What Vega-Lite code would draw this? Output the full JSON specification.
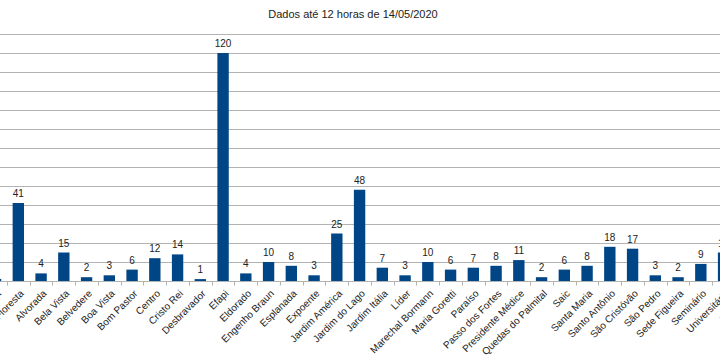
{
  "$schema": "https://vega.github.io/schema/vega-lite/v6.json",
  "width": 720,
  "height": 247,
  "autosize": {"type": "none"},
  "padding": {"left": 0, "top": 34, "right": 0, "bottom": 82},
  "background": "white",
  "title": {
    "text": "Dados até 12 horas de 14/05/2020",
    "font": "Liberation Sans",
    "fontSize": 11,
    "fontWeight": "normal",
    "color": "#222222",
    "anchor": "middle",
    "frame": "group",
    "dx": -7,
    "offset": 14
  },
  "data": {
    "values": [
      {"bairro": "Água Santa", "casos": 1},
      {"bairro": "Alta Floresta", "casos": 41},
      {"bairro": "Alvorada", "casos": 4},
      {"bairro": "Bela Vista", "casos": 15},
      {"bairro": "Belvedere", "casos": 2},
      {"bairro": "Boa Vista", "casos": 3},
      {"bairro": "Bom Pastor", "casos": 6},
      {"bairro": "Centro", "casos": 12},
      {"bairro": "Cristo Rei", "casos": 14},
      {"bairro": "Desbravador", "casos": 1},
      {"bairro": "Efapi", "casos": 120},
      {"bairro": "Eldorado", "casos": 4},
      {"bairro": "Engenho Braun", "casos": 10},
      {"bairro": "Esplanada", "casos": 8},
      {"bairro": "Expoente", "casos": 3},
      {"bairro": "Jardim América", "casos": 25},
      {"bairro": "Jardim do Lago", "casos": 48},
      {"bairro": "Jardim Itália", "casos": 7},
      {"bairro": "Líder", "casos": 3},
      {"bairro": "Marechal Bormann", "casos": 10},
      {"bairro": "Maria Goretti", "casos": 6},
      {"bairro": "Paraíso", "casos": 7},
      {"bairro": "Passo dos Fortes", "casos": 8},
      {"bairro": "Presidente Médice", "casos": 11},
      {"bairro": "Quedas do Palmital", "casos": 2},
      {"bairro": "Saic", "casos": 6},
      {"bairro": "Santa Maria", "casos": 8},
      {"bairro": "Santo Antônio", "casos": 18},
      {"bairro": "São Cristóvão", "casos": 17},
      {"bairro": "São Pedro", "casos": 3},
      {"bairro": "Sede Figueira", "casos": 2},
      {"bairro": "Seminário", "casos": 9},
      {"bairro": "Universitário", "casos": 15},
      {"bairro": "Vila Real", "casos": 5}
    ]
  },
  "encoding": {
    "x": {
      "field": "bairro",
      "type": "nominal",
      "sort": null,
      "scale": {"range": [-15.8, 757.7], "paddingInner": 0, "paddingOuter": 0},
      "axis": {
        "title": null,
        "labelAngle": -45,
        "labelFont": "Liberation Sans",
        "labelFontSize": 10,
        "labelColor": "#222222",
        "labelOverlap": false,
        "labelBound": false,
        "labelPadding": 3,
        "tickBand": "extent",
        "tickSize": 4,
        "tickColor": "#b3b3b3",
        "domainColor": "#b3b3b3",
        "grid": false
      }
    },
    "y": {
      "field": "casos",
      "type": "quantitative",
      "scale": {"domain": [0, 130], "nice": false},
      "axis": {
        "title": null,
        "labels": false,
        "ticks": false,
        "domain": false,
        "values": [0, 10, 20, 30, 40, 50, 60, 70, 80, 90, 100, 110, 120, 130],
        "grid": true,
        "gridColor": "#b3b3b3",
        "gridWidth": 1
      }
    }
  },
  "layer": [
    {
      "mark": {"type": "bar", "color": "#004586", "width": {"band": 0.5}}
    },
    {
      "mark": {
        "type": "text",
        "baseline": "alphabetic",
        "dy": -6,
        "font": "Liberation Sans",
        "fontSize": 10,
        "color": "#222222"
      },
      "encoding": {"text": {"field": "casos", "type": "quantitative"}}
    }
  ],
  "config": {"view": {"stroke": null}}
}
